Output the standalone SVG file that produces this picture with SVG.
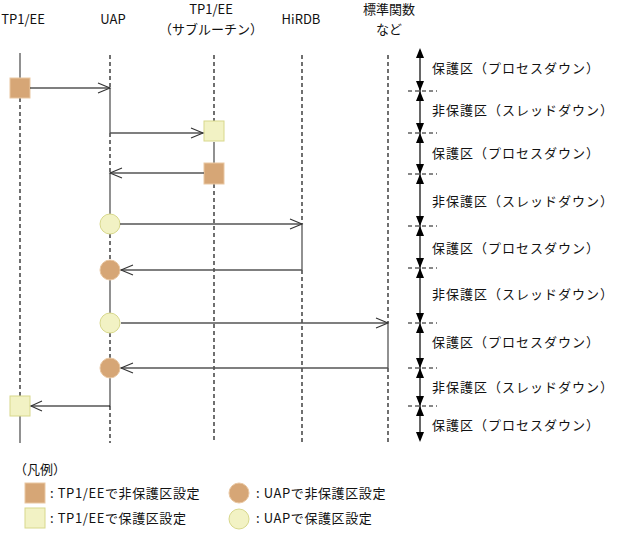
<svg xmlns="http://www.w3.org/2000/svg" width="621" height="533" viewBox="0 0 621 533">
<style>
text{font-family:"Noto Sans CJK JP","Noto Sans",sans-serif;font-size:13px;fill:#111}
.hd{text-anchor:middle}
.lab{letter-spacing:1px}
.lg{letter-spacing:0.6px}
.dash{stroke:#111;stroke-width:1.2;stroke-dasharray:4,3;fill:none}
.solid{stroke:#555;stroke-width:1.3;fill:none}
.msg{stroke:#555;stroke-width:1.3;fill:none}
.head{stroke:#333;stroke-width:1.1;fill:none}
.ob{fill:#D6A676;stroke:#E9C7A2;stroke-width:1}
.yb{fill:#F2F2C4;stroke:#D8D88C;stroke-width:1}
.sep{stroke:#111;stroke-width:1;stroke-dasharray:4,3}
.tri{fill:#000}
</style>
<rect width="621" height="533" fill="#fff"/>

<g id="headers">
<text class="hd" x="23" y="24">TP1/EE</text>
<text class="hd" x="113" y="24">UAP</text>
<text class="hd" x="211" y="14">TP1/EE</text>
<text class="hd" x="211" y="34">（サブルーチン）</text>
<text class="hd" x="301" y="24">HiRDB</text>
<text class="hd" x="389" y="14">標準関数</text>
<text class="hd" x="389" y="34">など</text>
</g>

<g id="lifeline-tp1ee">
<line class="solid" x1="20" y1="53" x2="20" y2="78"/>
<line class="dash" x1="20" y1="98" x2="20" y2="396"/>
<line class="solid" x1="20" y1="416" x2="20" y2="443"/>
<rect class="ob" x="10" y="78" width="20" height="20"/>
<rect class="yb" x="10" y="396" width="20" height="20"/>
</g>

<g id="lifeline-uap">
<line class="dash" x1="110" y1="55" x2="110" y2="88"/>
<line class="solid" x1="110" y1="88" x2="110" y2="133"/>
<line class="dash" x1="110" y1="133" x2="110" y2="173"/>
<line class="solid" x1="110" y1="173" x2="110" y2="214"/>
<line class="dash" x1="110" y1="234" x2="110" y2="260"/>
<line class="solid" x1="110" y1="280" x2="110" y2="313"/>
<line class="dash" x1="110" y1="333" x2="110" y2="358"/>
<line class="solid" x1="110" y1="378" x2="110" y2="406"/>
<line class="dash" x1="110" y1="406" x2="110" y2="443"/>
<circle class="yb" cx="110" cy="224" r="10"/>
<circle class="ob" cx="110" cy="270" r="10"/>
<circle class="yb" cx="110" cy="323" r="10"/>
<circle class="ob" cx="110" cy="368" r="10"/>
</g>

<g id="lifeline-sub">
<line class="dash" x1="214" y1="55" x2="214" y2="121"/>
<line class="solid" x1="214" y1="142" x2="214" y2="163"/>
<line class="dash" x1="214" y1="184" x2="214" y2="443"/>
<rect class="yb" x="204" y="121" width="20" height="20"/>
<rect class="ob" x="204" y="163" width="20" height="21"/>
</g>

<g id="lifeline-hirdb">
<line class="dash" x1="302" y1="55" x2="302" y2="224"/>
<line class="solid" x1="302" y1="224" x2="302" y2="270" stroke="#111"/>
<line class="dash" x1="302" y1="270" x2="302" y2="443"/>
</g>

<g id="lifeline-std">
<line class="dash" x1="388" y1="55" x2="388" y2="323"/>
<line class="solid" x1="388" y1="323" x2="388" y2="368"/>
<line class="dash" x1="388" y1="368" x2="388" y2="443"/>
</g>

<g id="connectors">
<line x1="30" y1="88" x2="110" y2="88" stroke="#000" stroke-width="1.2"/>
<path class="head" d="M98,83 L110,88 L98,93"/>
<line class="msg" x1="110" y1="133" x2="203" y2="133"/>
<path class="head" d="M191,128 L203,133 L191,138"/>
<line class="msg" x1="204" y1="173" x2="110" y2="173"/>
<path class="head" d="M122,168 L110,173 L122,178"/>
<line class="msg" x1="120" y1="224" x2="302" y2="224"/>
<path class="head" d="M290,219 L302,224 L290,229"/>
<line class="msg" x1="302" y1="270" x2="121" y2="270"/>
<path class="head" d="M133,265 L121,270 L133,275"/>
<line class="msg" x1="121" y1="323" x2="388" y2="323"/>
<path class="head" d="M376,318 L388,323 L376,328"/>
<line class="msg" x1="388" y1="368" x2="121" y2="368"/>
<path class="head" d="M133,363 L121,368 L133,373"/>
<line x1="110" y1="406" x2="31" y2="406" stroke="#000" stroke-width="1.2"/>
<path class="head" d="M42,401 L31,406 L42,411"/>
</g>

<g id="zones">
<line x1="420" y1="50" x2="420" y2="440" stroke="#000" stroke-width="1.2"/>
<line class="sep" x1="408" y1="91" x2="437" y2="91"/>
<line class="sep" x1="408" y1="133" x2="437" y2="133"/>
<line class="sep" x1="408" y1="174" x2="437" y2="174"/>
<line class="sep" x1="408" y1="226" x2="437" y2="226"/>
<line class="sep" x1="408" y1="268" x2="437" y2="268"/>
<line class="sep" x1="408" y1="323" x2="437" y2="323"/>
<line class="sep" x1="408" y1="368" x2="437" y2="368"/>
<line class="sep" x1="408" y1="406" x2="437" y2="406"/>
<path class="tri" d="M420,48 L416,58 L424,58Z"/>
<path class="tri" d="M420,91 L416,81 L424,81Z M420,91 L416,101 L424,101Z"/>
<path class="tri" d="M420,133 L416,123 L424,123Z M420,133 L416,143 L424,143Z"/>
<path class="tri" d="M420,174 L416,164 L424,164Z M420,174 L416,184 L424,184Z"/>
<path class="tri" d="M420,226 L416,216 L424,216Z M420,226 L416,236 L424,236Z"/>
<path class="tri" d="M420,268 L416,258 L424,258Z M420,268 L416,278 L424,278Z"/>
<path class="tri" d="M420,323 L416,313 L424,313Z M420,323 L416,333 L424,333Z"/>
<path class="tri" d="M420,368 L416,358 L424,358Z M420,368 L416,378 L424,378Z"/>
<path class="tri" d="M420,406 L416,396 L424,396Z M420,406 L416,416 L424,416Z"/>
<path class="tri" d="M420,442 L416,432 L424,432Z"/>
<text class="lab" x="432" y="73">保護区（プロセスダウン）</text>
<text class="lab" x="432" y="115">非保護区（スレッドダウン）</text>
<text class="lab" x="432" y="158">保護区（プロセスダウン）</text>
<text class="lab" x="432" y="206">非保護区（スレッドダウン）</text>
<text class="lab" x="432" y="253">保護区（プロセスダウン）</text>
<text class="lab" x="432" y="299">非保護区（スレッドダウン）</text>
<text class="lab" x="432" y="347">保護区（プロセスダウン）</text>
<text class="lab" x="432" y="392">非保護区（スレッドダウン）</text>
<text class="lab" x="432" y="430">保護区（プロセスダウン）</text>
</g>

<g id="legend">
<text x="14" y="474">（凡例）</text>
<rect class="ob" x="25" y="483" width="20" height="20"/>
<text class="lg" x="50" y="498">: TP1/EEで非保護区設定</text>
<rect class="yb" x="25" y="508" width="20" height="20"/>
<text class="lg" x="50" y="523">: TP1/EEで保護区設定</text>
<circle class="ob" cx="239" cy="493" r="10"/>
<text class="lg" x="256" y="498">: UAPで非保護区設定</text>
<circle class="yb" cx="239" cy="519" r="10"/>
<text class="lg" x="256" y="523">: UAPで保護区設定</text>
</g>
</svg>
